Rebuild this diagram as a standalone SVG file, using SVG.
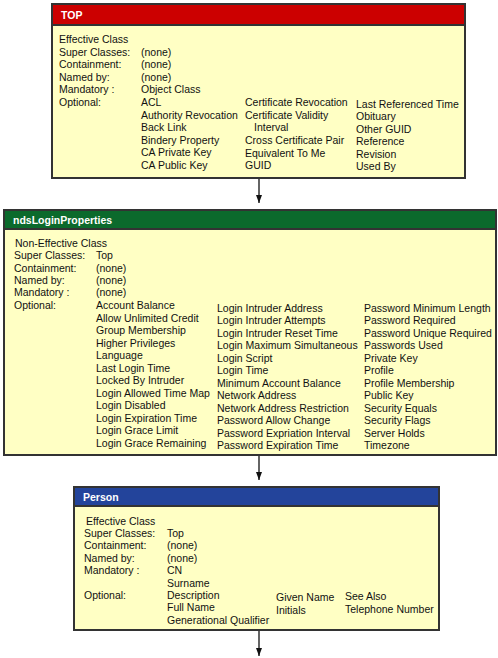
<svg xmlns="http://www.w3.org/2000/svg" width="498" height="658" viewBox="0 0 498 658">
<style>
text{font-family:"Liberation Sans",Arial,sans-serif;font-size:10.5px;fill:#111}
.h{font-weight:bold;fill:#fff}
.body{fill:#ffffc4;stroke:#333;stroke-width:2}
.hdr{stroke:#333;stroke-width:2}
.conn{stroke:#111;stroke-width:1.3;fill:none}
</style>
<defs>
<marker id="ah" markerWidth="8" markerHeight="6" refX="8" refY="3" orient="auto" markerUnits="userSpaceOnUse">
<path d="M0,0 L8,3 L0,6 Z" fill="#111"/>
</marker>
</defs>
<g id="connectors">
<line class="conn" x1="259" y1="179" x2="259" y2="203" marker-end="url(#ah)"/>
<line class="conn" x1="259" y1="456" x2="259" y2="480" marker-end="url(#ah)"/>
<line class="conn" x1="259" y1="631" x2="259" y2="656" marker-end="url(#ah)"/>
</g>
<g id="top">
<rect class="body" x="52" y="4" width="413" height="174"/>
<rect class="hdr" x="52" y="4" width="413" height="21" fill="#cc0000"/>
<text class="h" x="61" y="18.5">TOP</text>
<text x="59" y="43">Effective Class</text>
<text x="59" y="55.5">Super Classes:</text>
<text x="59" y="68">Containment:</text>
<text x="59" y="80.5">Named by:</text>
<text x="59" y="93">Mandatory :</text>
<text x="59" y="106">Optional:</text>
<text x="141" y="55.5">(none)</text>
<text x="141" y="68">(none)</text>
<text x="141" y="80.5">(none)</text>
<text x="141" y="93">Object Class</text>
<text x="141" y="106">ACL</text>
<text x="141" y="118.5">Authority Revocation</text>
<text x="141" y="131">Back Link</text>
<text x="141" y="143.5">Bindery Property</text>
<text x="141" y="156">CA Private Key</text>
<text x="141" y="168.5">CA Public Key</text>
<text x="245" y="106">Certificate Revocation</text>
<text x="245" y="118.5">Certificate Validity</text>
<text x="254" y="131">Interval</text>
<text x="245" y="144">Cross Certificate Pair</text>
<text x="245" y="156.5">Equivalent To Me</text>
<text x="245" y="169">GUID</text>
<text x="356" y="107.5">Last Referenced Time</text>
<text x="356" y="120">Obituary</text>
<text x="356" y="132.5">Other GUID</text>
<text x="356" y="145">Reference</text>
<text x="356" y="157.5">Revision</text>
<text x="356" y="170">Used By</text>
</g>
<g id="ndsLoginProperties">
<rect class="body" x="4" y="210" width="492" height="245"/>
<rect class="hdr" x="4" y="210" width="492" height="19" fill="#0b6a2c"/>
<text class="h" x="13" y="223.5">ndsLoginProperties</text>
<text x="15" y="247">Non-Effective Class</text>
<text x="14" y="259">Super Classes:</text>
<text x="14" y="271.5">Containment:</text>
<text x="14" y="284">Named by:</text>
<text x="14" y="296">Mandatory :</text>
<text x="14" y="308.5">Optional:</text>
<text x="96" y="259">Top</text>
<text x="96" y="271.5">(none)</text>
<text x="96" y="284">(none)</text>
<text x="96" y="296">(none)</text>
<text x="96" y="309">Account Balance</text>
<text x="96" y="321.5">Allow Unlimited Credit</text>
<text x="96" y="334">Group Membership</text>
<text x="96" y="346.5">Higher Privileges</text>
<text x="96" y="359">Language</text>
<text x="96" y="371.5">Last Login Time</text>
<text x="96" y="384">Locked By Intruder</text>
<text x="96" y="396.5">Login Allowed Time Map</text>
<text x="96" y="409">Login Disabled</text>
<text x="96" y="421.5">Login Expiration Time</text>
<text x="96" y="434">Login Grace Limit</text>
<text x="96" y="446.5">Login Grace Remaining</text>
<text x="217" y="311.5">Login Intruder Address</text>
<text x="217" y="324">Login Intruder Attempts</text>
<text x="217" y="336.5">Login Intruder Reset Time</text>
<text x="217" y="349">Login Maximum Simultaneous</text>
<text x="217" y="361.5">Login Script</text>
<text x="217" y="374">Login Time</text>
<text x="217" y="386.5">Minimum Account Balance</text>
<text x="217" y="399">Network Address</text>
<text x="217" y="411.5">Network Address Restriction</text>
<text x="217" y="424">Password Allow Change</text>
<text x="217" y="436.5">Password Expriation Interval</text>
<text x="217" y="449">Password Expiration Time</text>
<text x="364" y="311.5">Password Minimum Length</text>
<text x="364" y="324">Password Required</text>
<text x="364" y="336.5">Password Unique Required</text>
<text x="364" y="349">Passwords Used</text>
<text x="364" y="361.5">Private Key</text>
<text x="364" y="374">Profile</text>
<text x="364" y="386.5">Profile Membership</text>
<text x="364" y="399">Public Key</text>
<text x="364" y="411.5">Security Equals</text>
<text x="364" y="424">Security Flags</text>
<text x="364" y="436.5">Server Holds</text>
<text x="364" y="449">Timezone</text>
</g>
<g id="person">
<rect class="body" x="74" y="487" width="365" height="143"/>
<rect class="hdr" x="74" y="487" width="365" height="19" fill="#23449b"/>
<text class="h" x="83" y="501">Person</text>
<text x="86" y="525">Effective Class</text>
<text x="84" y="537">Super Classes:</text>
<text x="84" y="549">Containment:</text>
<text x="84" y="561.5">Named by:</text>
<text x="84" y="574">Mandatory :</text>
<text x="84" y="598.5">Optional:</text>
<text x="167" y="537">Top</text>
<text x="167" y="549">(none)</text>
<text x="167" y="561.5">(none)</text>
<text x="167" y="574">CN</text>
<text x="167" y="586.5">Surname</text>
<text x="167" y="598.5">Description</text>
<text x="167" y="611">Full Name</text>
<text x="167" y="623.5">Generational Qualifier</text>
<text x="276" y="601">Given Name</text>
<text x="276" y="613.5">Initials</text>
<text x="345" y="600">See Also</text>
<text x="345" y="612.5">Telephone Number</text>
</g>
</svg>
